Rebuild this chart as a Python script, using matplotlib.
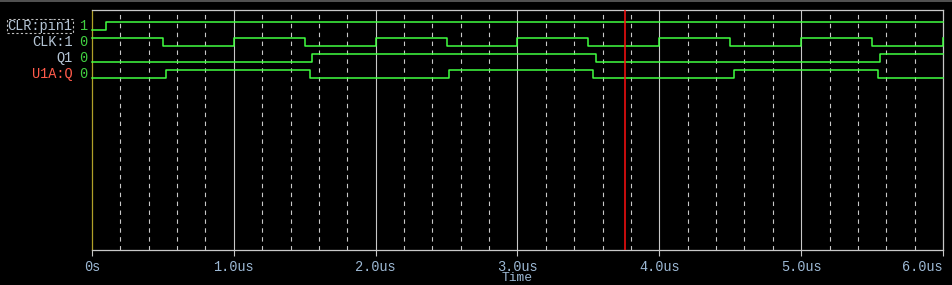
import matplotlib
matplotlib.use("Agg")
import matplotlib.pyplot as plt
import matplotlib.transforms as mtransforms
from matplotlib.patches import Rectangle

# ---- data ----
signal_names = ["CLR:pin1", "CLK:1", "Q1", "U1A:Q"]
cursor_values = ["1", "0", "0", "0"]
name_colors = ["#b4c4d4", "#b4c4d4", "#b4c4d4", "#ff5a4a"]

clr_t = [0.0, 0.10, 6.0]
clr_v = [0, 1, 1]

clk_t = [0.0, 0.50, 1.00, 1.50, 2.00, 2.50, 3.00, 3.50, 4.00, 4.50, 5.00, 5.50, 6.0]
clk_v = [1, 0, 1, 0, 1, 0, 1, 0, 1, 0, 1, 0, 1]

q1_t = [0.0, 1.55, 3.555, 5.555, 6.0]
q1_v = [0, 1, 0, 1, 1]

u1a_t = [0.0, 0.52, 1.535, 2.52, 3.535, 4.525, 5.54, 6.0]
u1a_v = [0, 1, 0, 1, 0, 1, 0, 0]

major_ticks = [0, 1, 2, 3, 4, 5, 6]
tick_labels = ["0s", "1.0us", "2.0us", "3.0us", "4.0us", "5.0us", "6.0us"]
minor_ticks = [0.2, 0.4, 0.6, 0.8, 1.2, 1.4, 1.6, 1.8, 2.2, 2.4, 2.6, 2.8,
               3.2, 3.4, 3.6, 3.8, 4.2, 4.4, 4.6, 4.8, 5.2, 5.4, 5.6, 5.8]
cursor_x = 3.755
x_label = "Time"

signals = [(clr_t, clr_v), (clk_t, clk_v), (q1_t, q1_v), (u1a_t, u1a_v)]

# ---- style ----
W, H = 953, 285
DPI = 100
BG = "#000000"
GREEN = "#40ff40"
GRID = "#c8c8c8"
TICKC = "#9cb8d4"
MONO = ["Liberation Mono", "DejaVu Sans Mono"]

fig = plt.figure(figsize=(W / DPI, H / DPI), dpi=DPI, facecolor=BG)
left, right, top, bottom = 92, 943, 10, 250
ax = fig.add_axes([left / W, 1 - bottom / H, (right - left) / W, (bottom - top) / H])
ax.set_facecolor(BG)
ax.set_xlim(0, 6)
ax.set_ylim(240, 0)  # y in pixel rows below plot top

# grid
for m in minor_ticks:
    ax.axvline(m, color=GRID, lw=0.8, ls=(0, (4, 4)), zorder=1)
for M in major_ticks[1:-1]:
    ax.axvline(M, color=GRID, lw=0.8, zorder=1)

# signals
for i, (t, v) in enumerate(signals):
    hi = 12.3 + 16 * i
    lo = 20.3 + 16 * i
    ys = [hi if val else lo for val in v]
    ax.step(t, ys, where="post", color=GREEN, lw=1.1, zorder=3, clip_on=False)

# cursor
ax.axvline(cursor_x, color="#ff1010", lw=1.1, zorder=4)

# spines
for s in ["top", "right", "bottom"]:
    ax.spines[s].set_color(GRID)
    ax.spines[s].set_linewidth(0.9)
ax.spines["left"].set_color("#b0a028")
ax.spines["left"].set_linewidth(0.9)

ax.set_yticks([])
ax.set_xticks(major_ticks)
ax.set_xticklabels(tick_labels, family=MONO, fontsize=9.8, color=TICKC)
ax.tick_params(axis="x", colors=GRID, length=4, width=0.8, pad=3.0, labelcolor=TICKC)
ax.get_xticklabels()[-1].set_horizontalalignment("right")
ax.set_xlabel(x_label, family=MONO, fontsize=9.4, color=TICKC, labelpad=-1)

# signal names & values
tr = mtransforms.blended_transform_factory(fig.transFigure, ax.transData)
for i, (name, val, c) in enumerate(zip(signal_names, cursor_values, name_colors)):
    yc = 16.3 + 16 * i
    ax.text(72.5 / W, yc, name, transform=tr, ha="right", va="center",
            family=MONO, fontsize=9.8, color=c, clip_on=False)
    ax.text(83 / W, yc, val, transform=tr, ha="center", va="center",
            family=MONO, fontsize=9.8, color="#40d040", clip_on=False)

# dashed selection box around first name
fig.patches.append(Rectangle((7 / W, 1 - 33 / H), 66 / W, 14 / H,
                             transform=fig.transFigure, fill=False,
                             ec="#c0c0c0", lw=0.8, ls=(0, (2, 2))))
# top strip
fig.patches.append(Rectangle((0, 1 - 2 / H), 1, 2 / H, transform=fig.transFigure,
                             color="#505050", lw=0))

fig.savefig("out.png", dpi=DPI, facecolor=BG)
